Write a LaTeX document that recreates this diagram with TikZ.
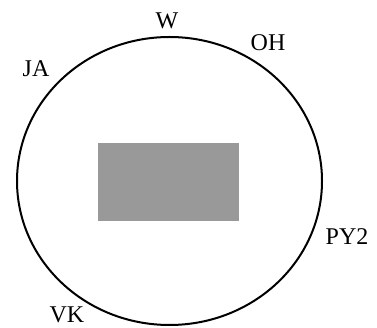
\documentclass[tikz,border=0pt]{standalone}
\usepackage{fontspec}
\setmainfont{Liberation Serif}
\usetikzlibrary{positioning}

\tikzset{
  station/.style={font=\fontsize{24}{26}\selectfont, inner sep=0pt},
  core/.style={fill=black!40, draw=none, minimum width=141pt, minimum height=78pt, inner sep=0pt}
}

\begin{document}
\begin{tikzpicture}[x=1pt, y=-1pt]
    \useasboundingbox (0,0) rectangle (377,328);
    % ring and shaded core
    \draw[line width=2pt] (169.5,181) ellipse [x radius=152.5, y radius=144];
    \node[core] (box) at (168.5,182) {};

    % stations round the ring
    \node[station] (w) at (167,21) {W};
    \node[station] (oh) at (268,43) {OH};
    \node[station] (ja) at (36,69) {JA};
    \node[station] (py) at (347,237) {PY2};
    \node[station] (vk) at (67,315) {VK};
\end{tikzpicture}
\end{document}
